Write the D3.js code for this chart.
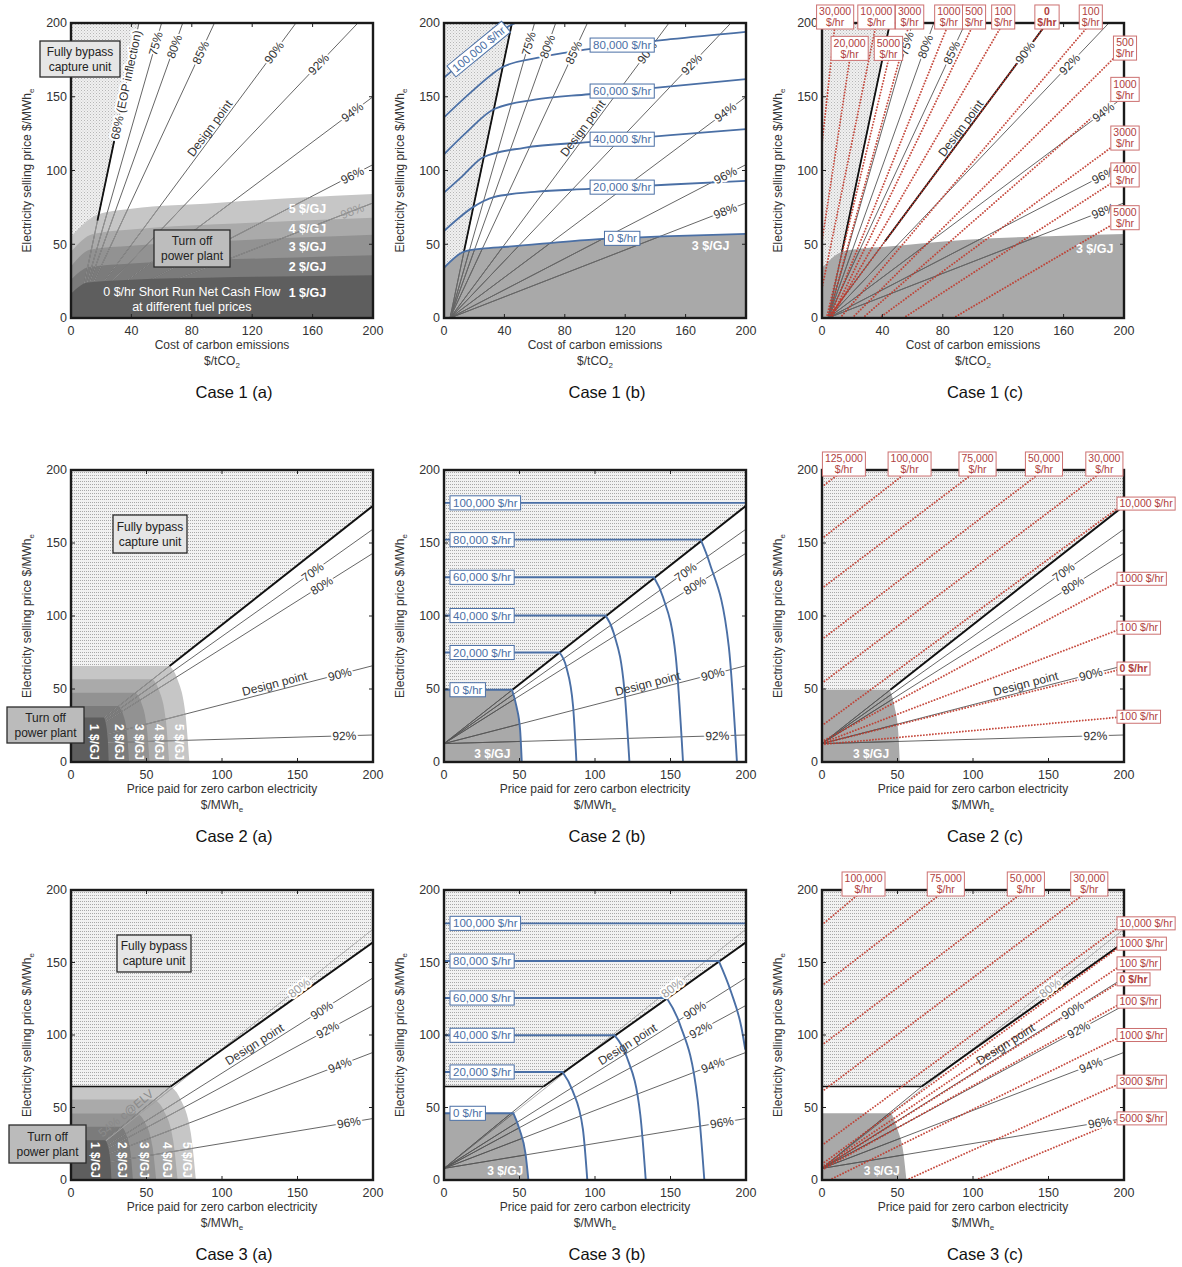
<!DOCTYPE html>
<html>
<head>
<meta charset="utf-8">
<script src="https://cdn.jsdelivr.net/npm/d3@7"></script>
<style>
body { margin: 0; background: #fff; }
text { font-family: "Liberation Sans", Arial, sans-serif; }
</style>
</head>
<body>
<script>
// ---------------- data ----------------
var xTicksCarbon = [0, 40, 80, 120, 160, 200];
var xTicksPrice = [0, 50, 100, 150, 200];
var yTicks = [0, 50, 100, 150, 200];
var captions = [["Case 1 (a)", "Case 1 (b)", "Case 1 (c)"],
                ["Case 2 (a)", "Case 2 (b)", "Case 2 (c)"],
                ["Case 3 (a)", "Case 3 (b)", "Case 3 (c)"]];

var fuelNames = ["1 $/GJ", "2 $/GJ", "3 $/GJ", "4 $/GJ", "5 $/GJ"];
var cashNames = ["0 $/hr", "20,000 $/hr", "40,000 $/hr", "60,000 $/hr", "80,000 $/hr", "100,000 $/hr"];

// case 1: capture-rate rays (from origin to far end)
var rayOrigin1 = [4, 0];
var rayNames1 = ["68%", "75%", "80%", "85%", "90%", "92%", "94%", "96%", "98%"];
var rayEnds1 = [[45, 200], [60, 200], [74, 200], [95, 200], [149, 200], [190, 200], [200, 150], [200, 104], [200, 78]];

// case 1 (a): top edge of each fuel price band
var fuelTops1 = [
  [[0, 16.5], [11, 24], [40, 26], [96, 27.5], [150, 28.3], [200, 29]],
  [[0, 26], [12, 34.5], [40, 37], [96, 39.5], [150, 41], [200, 42.5]],
  [[0, 35], [13, 46.5], [40, 49], [96, 52], [150, 54.5], [200, 56.5]],
  [[0, 45], [14.5, 57], [40, 60], [96, 63.5], [150, 66], [200, 68]],
  [[0, 55], [17.5, 70], [40, 74], [96, 78], [150, 81.5], [200, 84]]
];

// case 1 (b): net cash flow curves
var cashCurves1 = [
  [[0, 34], [13.3, 45], [25, 47], [42, 48.3], [96, 53], [150, 55.5], [200, 57]],
  [[0, 59], [10, 68], [19, 75], [33, 82], [60, 85.5], [96, 87.5], [150, 90.5], [200, 93]],
  [[0, 85], [12, 96], [26, 109], [53, 115.4], [96, 119.3], [150, 124], [200, 128]],
  [[0, 111], [15, 126], [33, 141.5], [60, 148], [96, 151.7], [150, 157], [200, 162]],
  [[0, 136], [20, 155], [38.5, 170], [60, 176], [96, 182.3], [150, 189], [200, 194]],
  [[0, 163], [25, 184], [45, 199], [60, 204]]
];

// case 1 (c): iso cash flow lines
var redNames1 = ["30,000", "20,000", "10,000", "5000", "3000", "1000", "500", "100", "0", "100", "500", "1000", "3000", "4000", "5000"];
var redLines1 = [
  [[0, 118], [8.7, 200]], [[0, 52], [18.3, 175]], [[0, 20], [36, 200]], [[3, 0], [44, 175]],
  [[4, 0], [58, 200]], [[5, 0], [84, 200]], [[6, 0], [100.7, 200]], [[6, 0], [120, 200]],
  [[4, 0], [149, 200]], [[12, 0], [178, 200]], [[20, 0], [200, 183]], [[27, 0], [200, 155]],
  [[38, 0], [200, 122]], [[54, 0], [200, 97]], [[87, 0], [200, 68]]
];

// case 2
var rayOrigin2 = [0, 12.6];
var rayNames2 = ["", "70%", "80%", "90%", "92%"];
var rayEnds2 = [[200, 175.5], [200, 159.5], [200, 143], [200, 66], [200, 18.5]];
var fuelTop2 = [30.4, 38.4, 47.5, 56.7, 65.8];
var fuelRight2 = [25, 38.5, 52, 65, 78.4];
var cashCurves2 = [
  [[0, 49.5], [45, 49.5], [48, 38], [50.4, 22], [51.5, 0]],
  [[0, 75], [76.5, 75], [81, 65], [85.5, 38], [87.7, 0]],
  [[0, 100.3], [107, 100.3], [112.5, 88], [119.5, 49], [122.8, 0]],
  [[0, 126.5], [139, 126.5], [145, 113], [153.5, 72], [158.3, 0]],
  [[0, 152.3], [170, 152.3], [176, 136], [188.6, 79], [194, 0]],
  [[0, 177.5], [200, 177.5]]
];
var redNames2 = ["125,000", "100,000", "75,000", "50,000", "30,000", "10,000", "1000", "100", "0", "100"];
var redLines2 = [
  [[0, 188.5], [14.5, 200]], [[0, 153], [58, 200]], [[0, 119], [103, 200]], [[0, 84], [147, 200]],
  [[0, 54], [187, 200]], [[0, 25], [200, 177]], [[0, 14], [200, 125.5]], [[0, 13], [200, 92]],
  [[0, 12.6], [200, 64]], [[0, 12], [200, 31]]
];

// case 3
var rayOrigin3 = [0, 8];
var rayNames3 = ["54% c@ELV", "80%", "90%", "92%", "94%", "96%"];
var rayEnds3 = [[66, 64.5], [200, 173], [200, 139.4], [200, 120.4], [200, 88], [200, 42.4]];
var bypassEdge3 = [[0, 64.5], [66, 64.5], [200, 164]];
var fuelTop3 = [27.5, 36.7, 45.9, 55.5, 64.5];
var fuelRight3 = [26.8, 41, 56.4, 70.6, 82.7];
var cashCurves3 = [
  [[0, 46], [46, 46], [50, 35], [54, 18], [55.9, 0]],
  [[0, 74.5], [78.5, 74.5], [85, 62], [92, 35], [94.9, 0]],
  [[0, 99.8], [113, 99.8], [121, 85], [130, 45], [133.6, 0]],
  [[0, 125.5], [147.5, 125.5], [156, 108], [168, 55], [172.4, 0]],
  [[0, 151], [182, 151], [190, 130], [197, 105], [199.5, 90]],
  [[0, 177], [200, 177]]
];
var redNames3 = ["100,000", "75,000", "50,000", "30,000", "10,000", "1000", "100", "0", "100", "1000", "3000", "5000"];
var redLines3 = [
  [[0, 176], [27.5, 200]], [[0, 134], [82, 200]], [[0, 93], [135, 200]], [[0, 61], [177, 200]],
  [[0, 24], [200, 177]], [[0, 11], [200, 163]], [[0, 9], [200, 149.4]], [[0, 8], [200, 138.4]],
  [[0, 7], [200, 123]], [[5, 0], [200, 100]], [[56, 0], [200, 67.8]], [[102, 0], [200, 42.5]]
];

// ---------------- layout ----------------
var colX = [71, 444, 822];
var rowY = [23, 470, 890];
var rowH = [295, 292, 290];
var PW = 302;
var bandColors = ["#5e5e5e", "#7b7b7b", "#929292", "#aaaaaa", "#c6c6c6"];
var gray3 = "#a9a9a9";
var blue = "#4a6fa5";
var red = "#c0392b";

var svg = d3.select("body").append("svg").attr("width", 1182).attr("height", 1267);
var defs = svg.append("defs");

var p1 = defs.append("pattern").attr("id", "stipple").attr("patternUnits", "userSpaceOnUse")
    .attr("width", 3).attr("height", 3);
p1.append("rect").attr("width", 3).attr("height", 3).attr("fill", "#f0f0f0");
p1.append("rect").attr("width", 1).attr("height", 1).attr("fill", "#b6b6b6");
p1.append("rect").attr("x", 1.5).attr("y", 1.5).attr("width", 1).attr("height", 1).attr("fill", "#cacaca");

var p2 = defs.append("pattern").attr("id", "stripe").attr("patternUnits", "userSpaceOnUse")
    .attr("width", 2).attr("height", 3);
p2.append("rect").attr("width", 2).attr("height", 3).attr("fill", "#f2f2f2");
p2.append("rect").attr("y", 1).attr("width", 1).attr("height", 1).attr("fill", "#a8a8a8");

function makePanel(col, row) {
  var P = {left: colX[col], top: rowY[row], w: PW, h: rowH[row], row: row, col: col};
  P.x = d3.scaleLinear().domain([0, 200]).range([P.left, P.left + P.w]);
  P.y = d3.scaleLinear().domain([0, 200]).range([P.top + P.h, P.top]);
  P.id = "p" + row + col;
  defs.append("clipPath").attr("id", P.id).append("rect")
      .attr("x", P.left).attr("y", P.top).attr("width", P.w).attr("height", P.h);
  P.g = svg.append("g");
  P.plot = P.g.append("g").attr("clip-path", "url(#" + P.id + ")");
  P.axesG = P.g.append("g");
  P.lab = P.g.append("g");
  P.line = d3.line().x(function(d) { return P.x(d[0]); }).y(function(d) { return P.y(d[1]); });
  P.curve = d3.line().curve(d3.curveMonotoneX)
      .x(function(d) { return P.x(d[0]); }).y(function(d) { return P.y(d[1]); });
  return P;
}

function lerpY(pts, xv) {
  for (var i = 1; i < pts.length; i++) {
    if (xv <= pts[i][0]) {
      var a = pts[i - 1], b = pts[i];
      return a[1] + (b[1] - a[1]) * (xv - a[0]) / (b[0] - a[0]);
    }
  }
  return pts[pts.length - 1][1];
}

// area under a curve across the whole panel
function areaUnder(P, pts) {
  return "M" + P.x(0) + "," + P.y(0) + P.curve(pts).replace(/^M/, "L") +
    "L" + P.x(200) + "," + P.y(0) + "Z";
}
// flat top to a knee, then bending down to the x axis
function kneeLine(P, pts) {
  return P.line(pts.slice(0, 2)) + P.curve(pts.slice(1)).replace(/^M/, "L");
}
function kneeShape(P, pts) {
  return "M" + P.x(0) + "," + P.y(0) + kneeLine(P, pts).replace(/^M/, "L") + "Z";
}
// band corner shape from band top, band right edge and the ray the knee sits on
function bandPoints(top, right, o, e) {
  var s = (e[1] - o[1]) / (e[0] - o[0]);
  var kx = Math.min(right - 0.5, o[0] + (top - o[1]) / s);
  var dx = right - kx;
  return [[0, top], [kx, top], [kx + 0.38 * dx, 0.87 * top], [kx + 0.8 * dx, 0.5 * top], [right, 0]];
}

function drawRays(P, o, ends, shape, innerColor, colors) {
  var cid = P.id + "s";
  defs.append("clipPath").attr("id", cid).append("path").attr("d", shape);
  var g1 = P.plot.append("g");
  var g2 = P.plot.append("g").attr("clip-path", "url(#" + cid + ")");
  ends.forEach(function(e, i) {
    [g1, g2].forEach(function(g, j) {
      g.append("line")
          .attr("x1", P.x(o[0])).attr("y1", P.y(o[1]))
          .attr("x2", P.x(e[0])).attr("y2", P.y(e[1]))
          .attr("stroke", j ? innerColor : (colors ? colors[i] : "#333"))
          .attr("stroke-width", 0.75);
    });
  });
}

function raySegment(P, o, e, t0, t1, width) {
  P.plot.append("line")
      .attr("x1", P.x(o[0] + (e[0] - o[0]) * t0)).attr("y1", P.y(o[1] + (e[1] - o[1]) * t0))
      .attr("x2", P.x(o[0] + (e[0] - o[0]) * t1)).attr("y2", P.y(o[1] + (e[1] - o[1]) * t1))
      .attr("stroke", "#111").attr("stroke-width", width);
}

function rayLabel(P, o, e, t, txt, color, halo, dy) {
  var px = P.x(o[0] + (e[0] - o[0]) * t), py = P.y(o[1] + (e[1] - o[1]) * t);
  var ang = Math.atan2(P.y(e[1]) - P.y(o[1]), P.x(e[0]) - P.x(o[0])) * 180 / Math.PI;
  var tx = P.lab.append("text")
      .attr("transform", "translate(" + px + "," + py + ") rotate(" + ang + ")")
      .attr("text-anchor", "middle").attr("dy", dy || "0.35em")
      .attr("font-size", 12).attr("fill", color || "#333").text(txt);
  if (halo) {
    tx.attr("stroke", "#fff").attr("stroke-width", 4).attr("stroke-linejoin", "round")
      .attr("paint-order", "stroke");
  }
}

function textBox(parent, cx, cy, lines, o) {
  var g = parent.append("g")
      .attr("transform", "translate(" + cx + "," + cy + ")" + (o.angle ? " rotate(" + o.angle + ")" : ""));
  var rect = g.append("rect");
  var lh = o.lh || o.size * 1.05;
  var n = lines.length;
  var texts = lines.map(function(s, i) {
    return g.append("text").attr("font-size", o.size).attr("fill", o.color)
        .attr("font-weight", o.bold ? "bold" : null)
        .attr("text-anchor", o.start ? "start" : "middle")
        .attr("x", o.start ? o.pad : 0)
        .attr("y", (i - (n - 1) / 2) * lh).attr("dy", "0.35em").text(s);
  });
  var wmax = d3.max(texts, function(t) { return t.node().getComputedTextLength(); });
  var bw = Math.max(wmax + 2 * o.pad, o.minW || 0), bh = n * lh + 2;
  rect.attr("x", o.start ? 0 : -bw / 2).attr("y", -bh / 2).attr("width", bw).attr("height", bh)
      .attr("fill", "#fff").attr("stroke", o.stroke).attr("stroke-width", 1);
}

function noteBox(P, dx, dy, w, h, lines, fill) {
  var x0 = P.left + dx, y0 = P.top + dy;
  P.lab.append("rect").attr("x", x0).attr("y", y0).attr("width", w).attr("height", h)
      .attr("fill", fill).attr("stroke", "#2b2b2b").attr("stroke-width", 1.3);
  lines.forEach(function(s, i) {
    P.lab.append("text").attr("x", x0 + w / 2).attr("y", y0 + h / 2 + (i - (lines.length - 1) / 2) * 15)
        .attr("dy", "0.35em").attr("text-anchor", "middle").attr("font-size", 12)
        .attr("fill", "#222").text(s);
  });
}

function whiteLabel(P, x, y, txt, opts) {
  opts = opts || {};
  return P.lab.append("text")
      .attr("transform", "translate(" + P.x(x) + "," + P.y(y) + ")" + (opts.rotate ? " rotate(" + opts.rotate + ")" : ""))
      .attr("text-anchor", opts.anchor || "middle").attr("dy", "0.35em")
      .attr("font-size", opts.size || 12).attr("font-weight", opts.bold === false ? null : "bold")
      .attr("fill", opts.color || "#fff").text(txt);
}

function redLines(P, names, lines, twoLineRight) {
  lines.forEach(function(l) {
    P.plot.append("path").attr("d", P.line(l)).attr("fill", "none")
        .attr("stroke", red).attr("stroke-width", 1.9).attr("stroke-opacity", 0.9)
        .attr("stroke-linecap", "round").attr("stroke-dasharray", "0.01 3");
  });
  lines.forEach(function(l, i) {
    var e = l[1], nm = names[i], bold = nm === "0";
    var o = {size: 10.5, color: "#b0413e", stroke: "#cc7070", pad: 2.5, bold: bold, minW: 22};
    if (e[1] >= 200) {
      textBox(P.lab, P.x(e[0]), P.top - 6, [nm, "$/hr"], o);
    } else if (e[0] >= 200) {
      if (twoLineRight) {
        textBox(P.lab, P.left + P.w + 1, P.y(e[1]), [nm, "$/hr"], o);
      } else {
        o.start = true; o.minW = 0;
        textBox(P.lab, P.left + P.w - 7, P.y(e[1]), [nm + " $/hr"], o);
      }
    } else {
      textBox(P.lab, P.x(e[0]), P.y(e[1]) - 11.5, [nm, "$/hr"], o);
    }
  });
}

function axes(P, xt, title, unit, sub) {
  var g = P.axesG;
  var tk = g.append("g").attr("stroke", "#222").attr("stroke-width", 1);
  xt.forEach(function(v) {
    tk.append("line").attr("x1", P.x(v)).attr("x2", P.x(v)).attr("y1", P.top + P.h).attr("y2", P.top + P.h - 4);
    tk.append("line").attr("x1", P.x(v)).attr("x2", P.x(v)).attr("y1", P.top).attr("y2", P.top + 4);
    g.append("text").attr("x", P.x(v)).attr("y", P.top + P.h + 17).attr("text-anchor", "middle")
        .attr("font-size", 12.5).attr("fill", "#333").text(v);
  });
  yTicks.forEach(function(v) {
    tk.append("line").attr("x1", P.left).attr("x2", P.left + 4).attr("y1", P.y(v)).attr("y2", P.y(v));
    tk.append("line").attr("x1", P.left + P.w).attr("x2", P.left + P.w - 4).attr("y1", P.y(v)).attr("y2", P.y(v));
    g.append("text").attr("x", P.left - 4).attr("y", P.y(v)).attr("dy", "0.35em").attr("text-anchor", "end")
        .attr("font-size", 12.5).attr("fill", "#333").text(v);
  });
  g.append("rect").attr("x", P.left).attr("y", P.top).attr("width", P.w).attr("height", P.h)
      .attr("fill", "none").attr("stroke", "#1a1a1a").attr("stroke-width", 2.4);
  var cx = P.left + P.w / 2;
  g.append("text").attr("x", cx).attr("y", P.top + P.h + 31).attr("text-anchor", "middle")
      .attr("font-size", 12).attr("fill", "#333").text(title);
  var u = g.append("text").attr("x", cx).attr("y", P.top + P.h + 47).attr("text-anchor", "middle")
      .attr("font-size", 12).attr("fill", "#333").text(unit);
  u.append("tspan").attr("font-size", 8).attr("dy", 3).text(sub);
  var yt = g.append("text")
      .attr("transform", "translate(" + (P.left - 40) + "," + (P.top + P.h / 2) + ") rotate(-90)")
      .attr("text-anchor", "middle").attr("font-size", 12).attr("fill", "#333")
      .text("Electricity selling price $/MWh");
  yt.append("tspan").attr("font-size", 8).attr("dy", 3).text("e");
  g.append("text").attr("x", cx + 12).attr("y", P.top + P.h + 80).attr("text-anchor", "middle")
      .attr("font-size", 16.5).attr("fill", "#111").text(captions[P.row][P.col]);
}

function carbonAxes(P) { axes(P, xTicksCarbon, "Cost of carbon emissions", "$/tCO", "2"); }
function priceAxes(P) { axes(P, xTicksPrice, "Price paid for zero carbon electricity", "$/MWh", "e"); }

var tRow1 = [0.79, 0.93, 0.92, 0.9, 0.9, 0.86, 0.93, 0.93, 0.93];
var tRow2 = [0, 0.8, 0.83, 0.89, 0.905];
var tRow3 = [0.6, 0.755, 0.83, 0.85, 0.89, 0.92];

function row1Labels(P, withEop) {
  rayNames1.forEach(function(nm, i) {
    if (i === 0) return;
    var gray = withEop && i === 8;
    rayLabel(P, rayOrigin1, rayEnds1[i], tRow1[i], nm, gray ? "#9a9a9a" : "#333", !gray);
  });
  rayLabel(P, rayOrigin1, rayEnds1[4], 0.63, "Design point", "#333", false, "-0.2em");
}

// ---------------- case 1 (a) ----------------
var A = makePanel(0, 0);
A.plot.append("path").attr("d", A.line([[0, 200], rayEnds1[0], rayOrigin1, [0, 0]]) + "Z").attr("fill", "url(#stipple)");
for (var k = 4; k >= 1; k--) {
  A.plot.append("path").attr("d", areaUnder(A, fuelTops1[k])).attr("fill", bandColors[k]);
}
drawRays(A, rayOrigin1, rayEnds1, areaUnder(A, fuelTops1[4]), "#a4a4a4");
A.plot.append("path").attr("d", areaUnder(A, fuelTops1[0])).attr("fill", bandColors[0]);
raySegment(A, rayOrigin1, rayEnds1[0], 0.33, 0.6, 1.8);
row1Labels(A, true);
rayLabel(A, rayOrigin1, rayEnds1[0], 0.79, "68% (EOP inflection)", "#333", true);
fuelNames.forEach(function(nm, i) {
  var topv = lerpY(fuelTops1[i], 165);
  var below = i ? lerpY(fuelTops1[i - 1], 165) : 6;
  whiteLabel(A, 169, (topv + below) / 2, nm, {anchor: "end", size: 12.5});
});
whiteLabel(A, 80, 17.7, "0 $/hr Short Run Net Cash Flow", {bold: false, size: 12.5});
whiteLabel(A, 80, 7.6, "at different fuel prices", {bold: false, size: 12.5});
noteBox(A, -31, 18, 80, 36, ["Fully bypass", "capture unit"], "#e6e6e6");
noteBox(A, 83, 207, 76, 37, ["Turn off", "power plant"], "#bdbdbd");
carbonAxes(A);

// ---------------- case 1 (b) ----------------
var B = makePanel(1, 0);
B.plot.append("path").attr("d", B.line([[0, 200], rayEnds1[0], rayOrigin1, [0, 0]]) + "Z").attr("fill", "url(#stipple)");
B.plot.append("path").attr("d", areaUnder(B, cashCurves1[0])).attr("fill", gray3);
drawRays(B, rayOrigin1, rayEnds1, areaUnder(B, cashCurves1[0]), "#6e6e6e");
raySegment(B, rayOrigin1, rayEnds1[0], 0.225, 1, 1.8);
cashCurves1.forEach(function(c) {
  B.plot.append("path").attr("d", B.curve(c)).attr("fill", "none").attr("stroke", blue).attr("stroke-width", 1.8);
});
row1Labels(B, false);
cashNames.forEach(function(nm, i) {
  var o = {size: 11.5, color: blue, stroke: blue, pad: 3};
  if (i < 5) {
    textBox(B.lab, B.x(118), B.y(lerpY(cashCurves1[i], 118)), [nm], o);
  } else {
    var c = cashCurves1[i];
    o.angle = Math.atan2(B.y(c[1][1]) - B.y(c[0][1]), B.x(c[1][0]) - B.x(c[0][0])) * 180 / Math.PI;
    textBox(B.lab, B.x(23), B.y(lerpY(c, 23)), [nm], o);
  }
});
whiteLabel(B, 189, 49, fuelNames[2], {anchor: "end", size: 12.5});
carbonAxes(B);

// ---------------- case 1 (c) ----------------
var C = makePanel(2, 0);
C.plot.append("path").attr("d", C.line([[0, 200], rayEnds1[0], rayOrigin1, [0, 0]]) + "Z").attr("fill", "url(#stipple)");
C.plot.append("path").attr("d", areaUnder(C, cashCurves1[0])).attr("fill", gray3);
drawRays(C, rayOrigin1, rayEnds1, areaUnder(C, cashCurves1[0]), "#6e6e6e");
raySegment(C, rayOrigin1, rayEnds1[0], 0.225, 1, 1.8);
raySegment(C, rayOrigin1, rayEnds1[4], 0.26, 1, 1.8);
row1Labels(C, false);
redLines(C, redNames1, redLines1, true);
whiteLabel(C, 193, 47, fuelNames[2], {anchor: "end", size: 12.5});
carbonAxes(C);

// ---------------- case 2 (a) ----------------
var bands2 = fuelTop2.map(function(t, i) { return bandPoints(t, fuelRight2[i], rayOrigin2, rayEnds2[0]); });
var D = makePanel(0, 1);
D.plot.append("path").attr("d", D.line([[0, 200], [200, 200], rayEnds2[0], rayOrigin2]) + "Z").attr("fill", "url(#stripe)");
for (k = 4; k >= 1; k--) {
  D.plot.append("path").attr("d", kneeShape(D, bands2[k])).attr("fill", bandColors[k]);
}
drawRays(D, rayOrigin2, rayEnds2, kneeShape(D, bands2[4]), "#a6a6a6");
D.plot.append("path").attr("d", kneeShape(D, bands2[0])).attr("fill", bandColors[0]);
raySegment(D, rayOrigin2, rayEnds2[0], (fuelTop2[4] - rayOrigin2[1]) / (rayEnds2[0][1] - rayOrigin2[1]), 1, 2);
rayNames2.forEach(function(nm, i) { if (nm) rayLabel(D, rayOrigin2, rayEnds2[i], tRow2[i], nm, "#333", true); });
rayLabel(D, rayOrigin2, rayEnds2[3], 0.68, "Design point", "#333", false, "-0.25em");
fuelNames.forEach(function(nm, i) {
  var xm = i ? (fuelRight2[i - 1] + fuelRight2[i]) / 2 : fuelRight2[0] * 0.62;
  whiteLabel(D, xm, 13.7, nm, {rotate: 90, size: 12});
});
noteBox(D, 42, 45, 74, 38, ["Fully bypass", "capture unit"], "#e6e6e6");
noteBox(D, -64, 237, 77, 36, ["Turn off", "power plant"], "#bbbbbb");
priceAxes(D);

// ---------------- case 2 (b) ----------------
function row2Base(P) {
  P.plot.append("path").attr("d", P.line([[0, 200], [200, 200], rayEnds2[0], rayOrigin2]) + "Z").attr("fill", "url(#stripe)");
  P.plot.append("path").attr("d", kneeShape(P, cashCurves2[0])).attr("fill", gray3);
  drawRays(P, rayOrigin2, rayEnds2, kneeShape(P, cashCurves2[0]), "#5a5a5a");
  raySegment(P, rayOrigin2, rayEnds2[0], (cashCurves2[0][1][1] - rayOrigin2[1]) / (rayEnds2[0][1] - rayOrigin2[1]), 1, 2);
  rayNames2.forEach(function(nm, i) { if (nm) rayLabel(P, rayOrigin2, rayEnds2[i], tRow2[i], nm, "#333", true); });
  rayLabel(P, rayOrigin2, rayEnds2[3], 0.68, "Design point", "#333", false, "-0.25em");
}
var E = makePanel(1, 1);
row2Base(E);
cashCurves2.forEach(function(c) {
  E.plot.append("path").attr("d", kneeLine(E, c)).attr("fill", "none").attr("stroke", blue).attr("stroke-width", 1.9);
});
cashNames.forEach(function(nm, i) {
  textBox(E.lab, E.left + 6, E.y(cashCurves2[i][0][1]), [nm], {size: 11.5, color: blue, stroke: blue, pad: 3, start: true});
});
whiteLabel(E, 32, 5.5, fuelNames[2], {size: 12});
priceAxes(E);

// ---------------- case 2 (c) ----------------
var F = makePanel(2, 1);
row2Base(F);
redLines(F, redNames2, redLines2, false);
whiteLabel(F, 32.5, 5.5, fuelNames[2], {size: 12});
priceAxes(F);

// ---------------- case 3 ----------------
var rayColors3 = ["#333", "#9a9a9a", "#333", "#333", "#333", "#333"];
function row3Hatch(P) {
  P.plot.append("path").attr("d", P.line([[0, 200], [200, 200]].concat(bypassEdge3.slice().reverse())) + "Z")
      .attr("fill", "url(#stripe)");
}
function row3Edge(P) {
  P.plot.append("path").attr("d", P.line(bypassEdge3.slice(0, 2))).attr("fill", "none")
      .attr("stroke", "#111").attr("stroke-width", 1.5);
  P.plot.append("path").attr("d", P.line(bypassEdge3.slice(1))).attr("fill", "none")
      .attr("stroke", "#111").attr("stroke-width", 2);
}
function row3Labels(P, withElv) {
  rayNames3.forEach(function(nm, i) {
    if (i === 0) {
      if (withElv) rayLabel(P, rayOrigin3, rayEnds3[0], tRow3[0], nm, "#8a8a8a", false, "-0.3em");
      return;
    }
    rayLabel(P, rayOrigin3, rayEnds3[i], tRow3[i], nm, i === 1 ? "#9a9a9a" : "#333", true);
  });
  rayLabel(P, rayOrigin3, rayEnds3[2], 0.62, "Design point", "#333", false, "-0.25em");
}

var bands3 = fuelTop3.map(function(t, i) { return bandPoints(t, fuelRight3[i], rayOrigin3, rayEnds3[0]); });
var G = makePanel(0, 2);
row3Hatch(G);
for (k = 4; k >= 1; k--) {
  G.plot.append("path").attr("d", kneeShape(G, bands3[k])).attr("fill", bandColors[k]);
}
drawRays(G, rayOrigin3, rayEnds3, kneeShape(G, bands3[4]), "#a6a6a6", rayColors3);
G.plot.append("path").attr("d", kneeShape(G, bands3[0])).attr("fill", bandColors[0]);
row3Edge(G);
row3Labels(G, true);
fuelNames.forEach(function(nm, i) {
  var xm = i ? (fuelRight3[i - 1] + fuelRight3[i]) / 2 : fuelRight3[0] * 0.6;
  whiteLabel(G, xm, 13.8, nm, {rotate: 90, size: 12});
});
noteBox(G, 46, 45, 74, 37, ["Fully bypass", "capture unit"], "#e6e6e6");
noteBox(G, -62, 235, 77, 38, ["Turn off", "power plant"], "#bbbbbb");
priceAxes(G);

function row3Base(P) {
  row3Hatch(P);
  P.plot.append("path").attr("d", kneeShape(P, cashCurves3[0])).attr("fill", gray3);
  drawRays(P, rayOrigin3, rayEnds3, kneeShape(P, cashCurves3[0]), "#5a5a5a", rayColors3);
  row3Edge(P);
  row3Labels(P, false);
}
var H = makePanel(1, 2);
row3Base(H);
cashCurves3.forEach(function(c) {
  H.plot.append("path").attr("d", kneeLine(H, c)).attr("fill", "none").attr("stroke", blue).attr("stroke-width", 1.9);
});
cashNames.forEach(function(nm, i) {
  textBox(H.lab, H.left + 6, H.y(cashCurves3[i][0][1]), [nm], {size: 11.5, color: blue, stroke: blue, pad: 3, start: true});
});
whiteLabel(H, 40.5, 6.5, fuelNames[2], {size: 12});
priceAxes(H);

var I = makePanel(2, 2);
row3Base(I);
redLines(I, redNames3, redLines3, false);
whiteLabel(I, 39.5, 6.5, fuelNames[2], {size: 12});
priceAxes(I);
</script>
</body>
</html>
